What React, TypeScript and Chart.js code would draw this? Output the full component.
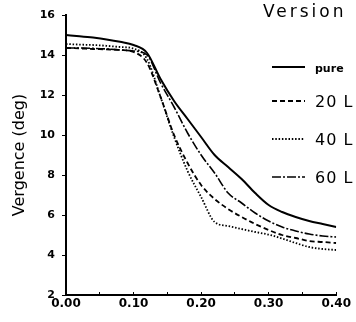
import { useEffect, useRef } from 'react';
import { Chart, registerables } from 'chart.js';
Chart.register(...registerables);

const tValues = [0, 0.02, 0.04, 0.06, 0.08, 0.1, 0.12, 0.14, 0.16, 0.18, 0.2, 0.22, 0.24, 0.26, 0.28, 0.3, 0.32, 0.34, 0.36, 0.38, 0.4];
const pure = [15.0, 14.94, 14.87, 14.78, 14.66, 14.5, 14.1, 12.8, 11.7, 10.8, 9.9, 9.0, 8.4, 7.8, 7.1, 6.5, 6.15, 5.9, 5.7, 5.55, 5.4];
const l20 = [14.35, 14.33, 14.3, 14.28, 14.25, 14.15, 13.6, 11.9, 10.0, 8.6, 7.5, 6.8, 6.3, 5.9, 5.55, 5.25, 5.0, 4.85, 4.7, 4.65, 4.6];
const l40 = [14.55, 14.52, 14.5, 14.46, 14.4, 14.32, 13.8, 11.9, 9.9, 8.2, 6.9, 5.65, 5.45, 5.3, 5.15, 5.02, 4.82, 4.6, 4.4, 4.3, 4.25];
const l60 = [14.35, 14.35, 14.33, 14.3, 14.25, 14.2, 14.0, 12.6, 11.4, 10.1, 9.0, 8.1, 7.1, 6.6, 6.1, 5.7, 5.4, 5.2, 5.05, 4.95, 4.9];
const seriesNames = ['pure', '20 L', '40 L', '60 L'];
const titleText = 'Version 1';
const yAxisTitle = 'Vergence (deg)';

const FONT = '"DejaVu Sans", "Liberation Sans", sans-serif';

export default function App() {
  const ref = useRef<HTMLCanvasElement>(null);
  useEffect(() => {
    if (!ref.current) return;
    const styles = [
      { dash: [] as number[], width: 2 },
      { dash: [5, 3], width: 1.8 },
      { dash: [1.5, 1.8], width: 1.8 },
      { dash: [9, 2, 2, 2], width: 1.6 },
    ];
    const series = [pure, l20, l40, l60];
    const legendPlugin = {
      id: 'customLegend',
      afterDraw(chart: any) {
        const ctx = chart.ctx as CanvasRenderingContext2D;
        ctx.save();
        ctx.fillStyle = '#000';
        ctx.strokeStyle = '#000';
        ctx.font = `17px ${FONT}`;
        (ctx as any).letterSpacing = '3px';
        ctx.textAlign = 'left';
        ctx.textBaseline = 'alphabetic';
        ctx.fillText(titleText, 263, 17);
        const lineYs = [67, 101, 139, 177];
        seriesNames.forEach((name, i) => {
          const y = lineYs[i];
          ctx.beginPath();
          ctx.setLineDash(styles[i].dash);
          ctx.lineWidth = styles[i].width;
          ctx.moveTo(272, y);
          ctx.lineTo(305, y);
          ctx.stroke();
          ctx.setLineDash([]);
          if (i === 0) {
            ctx.font = `bold 11px ${FONT}`;
            (ctx as any).letterSpacing = '0px';
            ctx.fillText(name, 315, y + 5);
          } else {
            ctx.font = `16px ${FONT}`;
            (ctx as any).letterSpacing = '1px';
            ctx.fillText(name, 315, y + 6);
          }
        });
        ctx.restore();
      },
    };
    const chart = new Chart(ref.current, {
      type: 'line',
      data: {
        labels: tValues,
        datasets: series.map((s, i) => ({
          label: seriesNames[i],
          data: tValues.map((t, j) => ({ x: t, y: s[j] })),
          borderColor: '#000',
          borderWidth: styles[i].width,
          borderDash: styles[i].dash,
          pointRadius: 0,
          fill: false,
          cubicInterpolationMode: 'monotone' as const,
        })),
      },
      options: {
        animation: false,
        responsive: false,
        layout: { padding: { top: 15, right: 18, left: 0, bottom: 0 } },
        plugins: { legend: { display: false }, tooltip: { enabled: false }, title: { display: false } },
        scales: {
          x: {
            type: 'linear',
            min: 0,
            max: 0.4,
            afterFit(scale: any) { scale.height = 27; },
            ticks: {
              stepSize: 0.05,
              color: '#000',
              font: { family: FONT, size: 12, weight: 'bold' },
              padding: 5,
              maxRotation: 0,
              autoSkip: false,
              callback: (v: any) => {
                const n = Math.round(Number(v) * 100);
                return n % 10 === 0 ? (n / 100).toFixed(2) : '';
              },
            },
            grid: { drawOnChartArea: false, color: '#000', tickLength: -3, lineWidth: 1 },
            border: { color: '#000', width: 2 },
          },
          y: {
            min: 2,
            max: 16,
            afterFit(scale: any) { scale.width = 66; },
            ticks: {
              stepSize: 2,
              color: '#000',
              font: { family: FONT, size: 11, weight: 'bold' },
              padding: 7,
            },
            title: {
              display: true,
              text: yAxisTitle,
              color: '#000',
              font: { family: FONT, size: 16, weight: 'normal' },
              padding: { top: 10, bottom: 0 },
            },
            grid: { drawOnChartArea: false, color: '#000', tickLength: 4, lineWidth: 1 },
            border: { color: '#000', width: 2 },
          },
        },
      },
      plugins: [legendPlugin],
    });
    return () => chart.destroy();
  }, []);
  return (
    <div style={{ position: 'fixed', left: 0, top: 0, width: 356, height: 322, background: '#fff' }}>
      <canvas ref={ref} width={356} height={322} style={{ display: 'block' }} />
    </div>
  );
}
